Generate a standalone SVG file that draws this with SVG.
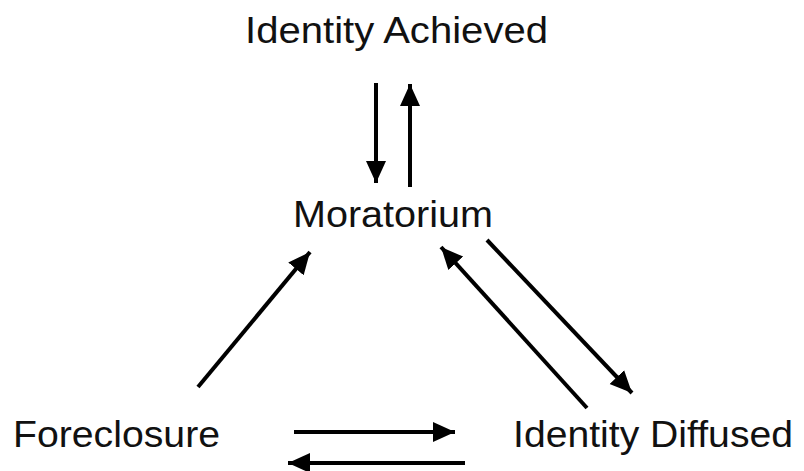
<svg xmlns="http://www.w3.org/2000/svg" width="804" height="471" viewBox="0 0 804 471">
<style>
.lbl{font-family:"Liberation Sans",Arial,Helvetica,sans-serif;font-size:37px;fill:#111;}
.arr{stroke:#000;stroke-width:4;fill:none;marker-end:url(#ah);}
</style>
<defs>
<marker id="ah" markerUnits="userSpaceOnUse" markerWidth="24" markerHeight="24" viewBox="0 0 24 24" refX="22" refY="12" orient="auto">
<path d="M0,2 L22,12 L0,22 Z" fill="#000"/>
</marker>
</defs>
<rect width="804" height="471" fill="#fff"/>
<g id="identity-achieved"><text class="lbl" x="245" y="43" textLength="303" lengthAdjust="spacingAndGlyphs">Identity Achieved</text></g>
<g id="moratorium"><text class="lbl" x="293" y="227" textLength="200" lengthAdjust="spacingAndGlyphs">Moratorium</text></g>
<g id="foreclosure"><text class="lbl" x="13" y="447" textLength="207" lengthAdjust="spacingAndGlyphs">Foreclosure</text></g>
<g id="identity-diffused"><text class="lbl" x="513" y="447" textLength="280" lengthAdjust="spacingAndGlyphs">Identity Diffused</text></g>
<g id="connectors">
<line class="arr" x1="376" y1="83" x2="376" y2="183"/>
<line class="arr" x1="410" y1="187" x2="410" y2="84"/>
<line class="arr" x1="294" y1="432" x2="455" y2="432"/>
<line class="arr" x1="465" y1="463" x2="288" y2="463"/>
<line class="arr" x1="487" y1="240" x2="632" y2="393"/>
<line class="arr" x1="587" y1="408" x2="441" y2="247"/>
<line class="arr" x1="198" y1="387" x2="310" y2="252"/>
</g>
</svg>
